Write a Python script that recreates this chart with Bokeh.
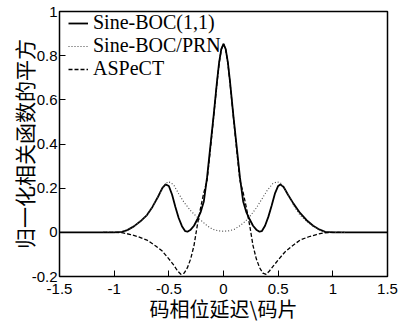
from bokeh.plotting import figure
from bokeh.models import Range1d, FixedTicker, Legend, LegendItem
from bokeh.embed import file_html
from bokeh.resources import INLINE

# Sine-BOC(1,1) squared ACF (solid)
boc_tau = [-1.5, -1.0, -0.93, -0.88, -0.82, -0.76, -0.70, -0.65, -0.60, -0.56, -0.53, -0.50,
           -0.47, -0.44, -0.41, -0.38, -0.35, -0.33, -0.30, -0.27, -0.24, -0.21, -0.18, -0.15,
           -0.12, -0.09, -0.06, -0.04, -0.02, 0.0, 0.02, 0.04, 0.06, 0.09, 0.12, 0.15, 0.18,
           0.21, 0.24, 0.27, 0.30, 0.33, 0.35, 0.38, 0.41, 0.44, 0.47, 0.50, 0.52, 0.55, 0.59,
           0.64, 0.70, 0.76, 0.82, 0.88, 0.93, 1.0, 1.5]
boc_val = [0.0, 0.0, 0.002, 0.01, 0.027, 0.05, 0.078, 0.115, 0.16, 0.2, 0.217, 0.21,
           0.17, 0.115, 0.065, 0.028, 0.005, 0.003, 0.012, 0.03, 0.058, 0.09, 0.14, 0.25,
           0.39, 0.53, 0.68, 0.77, 0.83, 0.853, 0.83, 0.77, 0.68, 0.53, 0.39, 0.25, 0.14,
           0.09, 0.058, 0.03, 0.012, 0.003, 0.005, 0.03, 0.07, 0.12, 0.175, 0.21, 0.217, 0.205, 0.17,
           0.13, 0.088, 0.055, 0.03, 0.012, 0.002, 0.0, 0.0]

# Sine-BOC/PRN squared cross-correlation (dotted)
prn_tau = [-1.1, -1.0, -0.93, -0.88, -0.82, -0.76, -0.70, -0.65, -0.60, -0.55, -0.51, -0.48,
           -0.45, -0.41, -0.36, -0.30, -0.25, -0.21, -0.15, -0.10, -0.05, 0.0, 0.05, 0.10,
           0.15, 0.20, 0.25, 0.30, 0.35, 0.40, 0.45, 0.49, 0.52, 0.55, 0.60, 0.65, 0.70,
           0.76, 0.82, 0.88, 0.93, 1.0, 1.12]
prn_val = [0.0, 0.0, 0.002, 0.01, 0.027, 0.05, 0.078, 0.115, 0.16, 0.205, 0.229, 0.225,
           0.21, 0.175, 0.135, 0.098, 0.073, 0.056, 0.03, 0.014, 0.007, 0.005, 0.007, 0.014,
           0.03, 0.05, 0.078, 0.11, 0.15, 0.19, 0.22, 0.229, 0.225, 0.205, 0.16, 0.115, 0.078,
           0.05, 0.027, 0.01, 0.002, 0.0, 0.0]

# ASPeCT (dashed)
asp_tau = [-1.1, -1.0, -0.92, -0.85, -0.78, -0.70, -0.62, -0.56, -0.50, -0.46, -0.42, -0.39,
           -0.36, -0.33, -0.30, -0.27, -0.24, -0.21, -0.18, -0.15, -0.12, -0.09, -0.06, -0.04,
           -0.02, 0.0, 0.02, 0.04, 0.06, 0.09, 0.12, 0.15, 0.18, 0.21, 0.24, 0.27, 0.30, 0.33,
           0.36, 0.39, 0.42, 0.46, 0.50, 0.56, 0.62, 0.70, 0.78, 0.85, 0.92, 1.0, 1.1]
asp_val = [0.0, 0.0, -0.002, -0.01, -0.02, -0.035, -0.062, -0.085, -0.12, -0.145, -0.175, -0.19,
           -0.185, -0.16, -0.12, -0.06, 0.03, 0.11, 0.18, 0.235, 0.375, 0.525, 0.675, 0.765,
           0.828, 0.853, 0.828, 0.765, 0.675, 0.525, 0.375, 0.235, 0.18, 0.11, 0.03, -0.06, -0.12, -0.16,
           -0.185, -0.19, -0.175, -0.15, -0.125, -0.09, -0.065, -0.035, -0.02, -0.01, -0.002, 0.0, 0.0]

x_ticks = [-1.5, -1.0, -0.5, 0.0, 0.5, 1.0, 1.5]
x_tick_labels = ["-1.5", "-1", "-0.5", "0", "0.5", "1", "1.5"]
y_ticks = [-0.2, 0.0, 0.2, 0.4, 0.6, 0.8, 1.0]
y_tick_labels = ["-0.2", "0", "0.2", "0.4", "0.6", "0.8", "1"]

series_names = ["Sine-BOC(1,1)", "Sine-BOC/PRN", "ASPeCT"]

p = figure(width=417, height=325, output_backend="svg", toolbar_location=None,
           x_range=Range1d(-1.5, 1.5), y_range=Range1d(-0.2, 1.0),
           min_border_left=59, min_border_right=30, min_border_top=11, min_border_bottom=49)
p.background_fill_color = "white"
p.border_fill_color = "white"
p.grid.visible = False
p.outline_line_color = "black"
p.outline_line_width = 1.5

r1 = p.line(boc_tau, boc_val, line_color="black", line_width=1.8)
r2 = p.line(prn_tau, prn_val, line_color="#444444", line_width=1.1, line_dash="1 2")
r3 = p.line(asp_tau, asp_val, line_color="black", line_width=1.3, line_dash="4 2")

for ax, ticks, labels in ((p.xaxis[0], x_ticks, x_tick_labels), (p.yaxis[0], y_ticks, y_tick_labels)):
    ax.ticker = FixedTicker(ticks=ticks)
    ax.major_label_overrides = {t: l for t, l in zip(ticks, labels)}
    ax.minor_tick_line_color = None
    ax.major_tick_in = 6
    ax.major_tick_out = 0
    ax.axis_line_color = "black"
    ax.major_tick_line_color = "black"
    ax.major_label_text_font = "Liberation Sans"
    ax.major_label_text_font_size = "15px"
    ax.major_label_text_color = "black"
    ax.axis_label_text_font = "Noto Sans CJK SC"
    ax.axis_label_text_font_size = "20px"
    ax.axis_label_text_font_style = "normal"
    ax.axis_label_text_color = "black"

p.xaxis.axis_label = "码相位延迟\\码片"
p.yaxis.axis_label = "归一化相关函数的平方"
p.yaxis.axis_label_text_font_size = "21px"
p.xaxis.major_label_standoff = 7
p.xaxis.axis_label_standoff = -3
p.yaxis.major_label_standoff = 2
p.yaxis.axis_label_standoff = -10

legend = Legend(items=[LegendItem(label=series_names[0], renderers=[r1]),
                       LegendItem(label=series_names[1], renderers=[r2]),
                       LegendItem(label=series_names[2], renderers=[r3])],
                location=(7, 194))
legend.border_line_alpha = 0
legend.background_fill_alpha = 0
legend.label_text_font = "Liberation Serif"
legend.label_text_font_size = "20px"
legend.label_text_color = "black"
legend.glyph_width = 20
legend.glyph_height = 20
legend.label_height = 21
legend.label_standoff = 5
legend.spacing = 0
legend.padding = 2
legend.margin = 0
p.add_layout(legend)

open("out.html", "w").write(file_html(p, INLINE))
